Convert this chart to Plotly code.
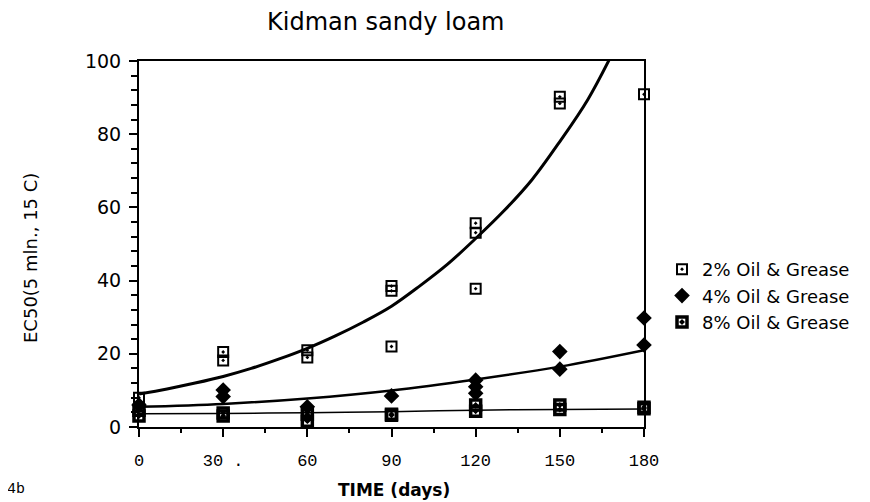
import plotly.graph_objects as go

# ---- data ----
days_2 = [0, 30, 30, 60, 60, 90, 90, 90, 120, 120, 120, 150, 150, 180]
ec50_2 = [8, 20.5, 18.2, 21, 19, 38.5, 37.2, 22, 55.7, 53.1, 37.8, 90.2, 88.4, 90.9]

days_4 = [0, 30, 30, 60, 90, 120, 120, 120, 150, 150, 180, 180]
ec50_4 = [6, 10.1, 8.3, 5.5, 8.5, 12.8, 11, 9.2, 20.6, 15.8, 29.8, 22.4]

days_8 = [0, 0, 30, 30, 60, 60, 90, 90, 120, 120, 150, 150, 180, 180]
ec50_8 = [4.6, 3, 3.8, 3, 3.5, 1.6, 3.5, 3.2, 6, 4.3, 6, 4.8, 5.4, 5.0]

fit_days_2 = [0, 10, 20, 30, 40, 50, 60, 70, 80, 90, 100, 110, 120, 130, 140, 150, 160, 170]
fit_ec50_2 = [9, 10.4, 12, 13.8, 16, 18.6, 21.5, 24.9, 28.7, 33, 38.5, 44.5, 51.5, 59, 67.5, 78, 89.5, 104]

fit_days_4 = [0, 30, 60, 90, 120, 150, 180]
fit_ec50_4 = [5.5, 6.3, 7.8, 10, 13, 16.5, 21]

fit_days_8 = [0, 30, 60, 90, 120, 150, 180]
fit_ec50_8 = [3.6, 3.7, 3.9, 4.2, 4.6, 4.8, 4.9]

x_ticks = [0, 30, 60, 90, 120, 150, 180]
x_tick_text = ["0", "30 .", "60", "90", "120", "150", "180"]
y_ticks = [0, 20, 40, 60, 80, 100]

names = ["2% Oil & Grease", "4% Oil & Grease", "8% Oil & Grease"]

SANS = "DejaVu Sans, Liberation Sans, Arial, sans-serif"
MONO = "Liberation Mono, DejaVu Sans Mono, monospace"

fig = go.Figure()

# fitted curves
fig.add_trace(go.Scatter(x=fit_days_2, y=fit_ec50_2, mode="lines", line=dict(color="black", width=3, shape="spline"),
                         showlegend=False, hoverinfo="skip"))
fig.add_trace(go.Scatter(x=fit_days_4, y=fit_ec50_4, mode="lines", line=dict(color="black", width=2.5, shape="spline"),
                         showlegend=False, hoverinfo="skip"))
fig.add_trace(go.Scatter(x=fit_days_8, y=fit_ec50_8, mode="lines", line=dict(color="black", width=1.5, shape="spline"),
                         showlegend=False, hoverinfo="skip"))

# observed points
fig.add_trace(go.Scatter(x=days_2, y=ec50_2, mode="markers", name=names[0], cliponaxis=False,
                         marker=dict(symbol="square-open-dot", size=10, color="black", line=dict(width=2, color="black"))))
fig.add_trace(go.Scatter(x=days_4, y=ec50_4, mode="markers", name=names[1], cliponaxis=False,
                         marker=dict(symbol="diamond", size=12, color="black", line=dict(width=0))))
fig.add_trace(go.Scatter(x=days_8, y=ec50_8, mode="markers", name=names[2], cliponaxis=False,
                         marker=dict(symbol="square-open-dot", size=10, color="black", line=dict(width=3.5, color="black"))))

# page body has an 8px margin, so the figure is shifted by 8px
OFF = 8
W, H = 870 - OFF, 502 - OFF
L, T = 139 - OFF, 61 - OFF
pw, ph = 505, 366
R = W - L - pw
B = H - T - ph

def px(x):  # reference pixel -> paper x
    return (x - 139) / pw

def py(y):  # reference pixel -> paper y
    return (427 - y) / ph

fig.update_layout(
    width=W, height=H,
    margin=dict(l=L, r=R, t=T, b=B, pad=0),
    paper_bgcolor="white", plot_bgcolor="white",
    font=dict(family=SANS, color="black", size=16),
    showlegend=True,
    legend=dict(x=px(662), y=py(251), xanchor="left", yanchor="top",
                font=dict(family=SANS, size=18, color="black"),
                itemwidth=30, tracegroupgap=0, borderwidth=0, bgcolor="rgba(0,0,0,0)"),
    xaxis=dict(range=[0, 180], tickvals=x_ticks, ticktext=x_tick_text,
               showgrid=False, zeroline=False, showline=True, linecolor="black", linewidth=2,
               mirror=True, ticks="outside", ticklen=8, tickwidth=2, tickcolor="black",
               minor=dict(dtick=15, ticks="outside", ticklen=4, tickwidth=2, tickcolor="black"),
               tickfont=dict(family=MONO, size=17, color="black"),
               ticklabelstandoff=9),
    yaxis=dict(range=[0, 100], tickvals=y_ticks,
               showgrid=False, zeroline=False, showline=True, linecolor="black", linewidth=2,
               mirror=True, ticks="outside", ticklen=8, tickwidth=2, tickcolor="black",
               minor=dict(dtick=4, ticks="outside", ticklen=6, tickwidth=1.5, tickcolor="black"),
               tickfont=dict(family=SANS, size=19, color="black"),
               ticklabelstandoff=4),
    annotations=[
        dict(text="Kidman sandy loam", x=px(386), y=py(22), xref="paper", yref="paper",
             showarrow=False, xanchor="center", yanchor="middle",
             font=dict(family=SANS, size=24, color="black")),
        dict(text="EC50(5 mln., 15 C)", x=px(30), y=py(258), xref="paper", yref="paper",
             showarrow=False, xanchor="center", yanchor="middle", textangle=-90,
             font=dict(family=SANS, size=18, color="black")),
        dict(text="<b>TIME (days)</b>", x=px(394), y=py(490), xref="paper", yref="paper",
             showarrow=False, xanchor="center", yanchor="middle",
             font=dict(family=SANS, size=17, color="black")),
        dict(text="4b", x=px(5), y=py(489), xref="paper", yref="paper",
             showarrow=False, xanchor="left", yanchor="middle",
             font=dict(family=MONO, size=15, color="black")),
    ],
)

fig.write_html("out.html")
